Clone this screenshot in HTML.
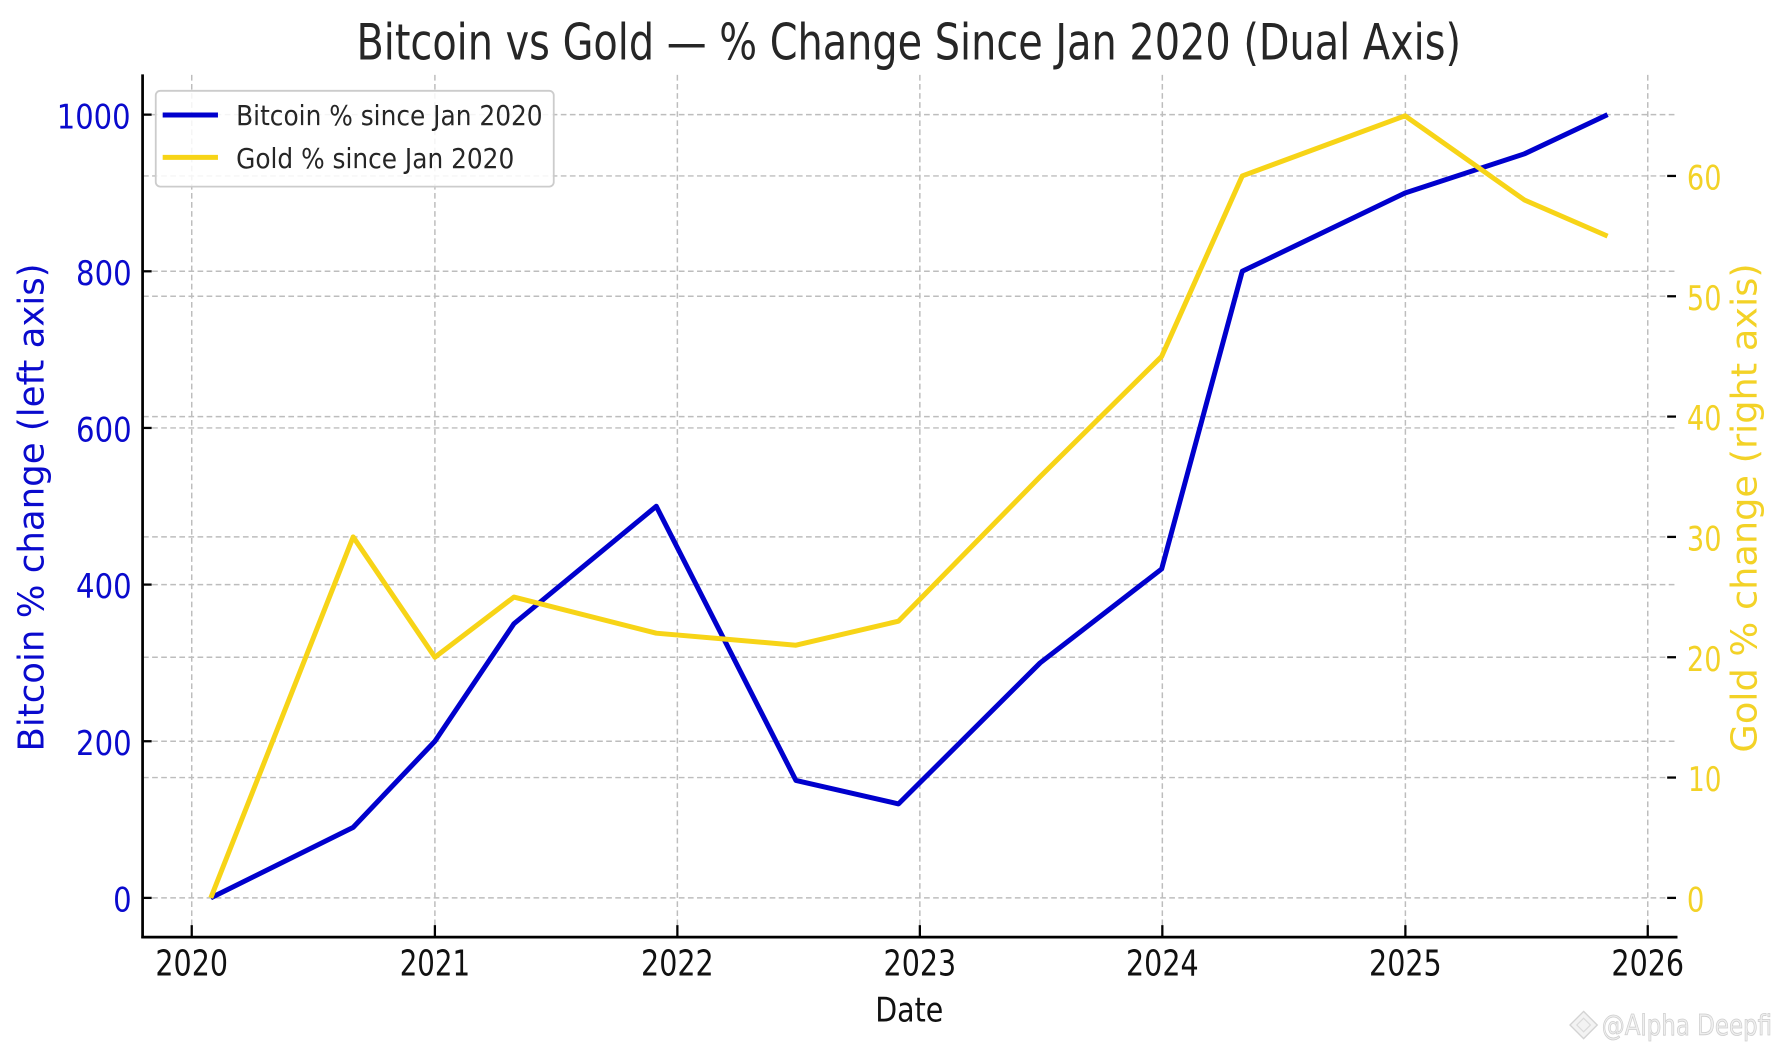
<!DOCTYPE html>
<html>
<head>
<meta charset="utf-8">
<style>
  html,body{margin:0;padding:0;background:#fff;}
  svg{display:block;}
  text{font-family:"DejaVu Sans","Liberation Sans",sans-serif;}
</style>
</head>
<body>
<svg width="1780" height="1050" viewBox="0 0 1568 925" preserveAspectRatio="none" xmlns="http://www.w3.org/2000/svg">
  <rect x="0" y="0" width="1568" height="925" fill="#ffffff"/>

  <!-- Title -->
  <text x="800.5" y="52.3" font-size="44" fill="#262626" text-anchor="middle" textLength="973" lengthAdjust="spacingAndGlyphs">Bitcoin vs Gold — % Change Since Jan 2020 (Dual Axis)</text>

  <!-- Grid -->
  <g stroke="#bdbdbd" stroke-width="1.3" stroke-dasharray="5,3" fill="none">
    <line x1="168.9" y1="66" x2="168.9" y2="825"/>
    <line x1="383.1" y1="66" x2="383.1" y2="825"/>
    <line x1="596.7" y1="66" x2="596.7" y2="825"/>
    <line x1="810.3" y1="66" x2="810.3" y2="825"/>
    <line x1="1023.9" y1="66" x2="1023.9" y2="825"/>
    <line x1="1238.0" y1="66" x2="1238.0" y2="825"/>
    <line x1="1451.5" y1="66" x2="1451.5" y2="825"/>
    <line x1="126" y1="791" x2="1477" y2="791"/>
    <line x1="126" y1="653" x2="1477" y2="653"/>
    <line x1="126" y1="515" x2="1477" y2="515"/>
    <line x1="126" y1="377" x2="1477" y2="377"/>
    <line x1="126" y1="239" x2="1477" y2="239"/>
    <line x1="126" y1="101" x2="1477" y2="101"/>
    <line x1="126" y1="685" x2="1477" y2="685"/>
    <line x1="126" y1="579" x2="1477" y2="579"/>
    <line x1="126" y1="473" x2="1477" y2="473"/>
    <line x1="126" y1="367" x2="1477" y2="367"/>
    <line x1="126" y1="261" x2="1477" y2="261"/>
    <line x1="126" y1="155" x2="1477" y2="155"/>
  </g>

  <!-- Bitcoin series -->
  <polyline fill="none" stroke="#0000cd" stroke-width="4.4" stroke-linejoin="round" stroke-linecap="butt"
    points="185.7,791 311.1,728.9 383.1,653 452.7,549.5 578.1,446 701.1,687.5 791.5,708.2 916.2,584 1023.3,501.2 1094.3,239 1237.7,170 1342.9,135.5 1416.1,101"/>

  <!-- Gold series -->
  <polyline fill="none" stroke="#f7d417" stroke-width="4.4" stroke-linejoin="round" stroke-linecap="butt"
    points="185.7,791 311.1,473 383.1,579 452.7,526 578.1,557.8 701.1,568.4 791.5,547.2 916.2,420 1023.3,314 1094.3,155 1237.7,102 1342.9,176.2 1416.1,208"/>

  <!-- Spines -->
  <line x1="125.6" y1="65.5" x2="125.6" y2="826.5" stroke="#000" stroke-width="2.4"/>
  <line x1="124.5" y1="825.6" x2="1477.7" y2="825.6" stroke="#000" stroke-width="2.4"/>

  <!-- Left ticks -->
  <g stroke="#000" stroke-width="2">
    <line x1="126" y1="791" x2="133.6" y2="791"/>
    <line x1="126" y1="653" x2="133.6" y2="653"/>
    <line x1="126" y1="515" x2="133.6" y2="515"/>
    <line x1="126" y1="377" x2="133.6" y2="377"/>
    <line x1="126" y1="239" x2="133.6" y2="239"/>
    <line x1="126" y1="101" x2="133.6" y2="101"/>
  </g>
  <!-- Right ticks -->
  <g stroke="#000" stroke-width="2">
    <line x1="1468.6" y1="791" x2="1476.4" y2="791"/>
    <line x1="1468.6" y1="685" x2="1476.4" y2="685"/>
    <line x1="1468.6" y1="579" x2="1476.4" y2="579"/>
    <line x1="1468.6" y1="473" x2="1476.4" y2="473"/>
    <line x1="1468.6" y1="367" x2="1476.4" y2="367"/>
    <line x1="1468.6" y1="261" x2="1476.4" y2="261"/>
    <line x1="1468.6" y1="155" x2="1476.4" y2="155"/>
  </g>
  <!-- Bottom ticks -->
  <g stroke="#000" stroke-width="2">
    <line x1="168.9" y1="815" x2="168.9" y2="825"/>
    <line x1="383.1" y1="815" x2="383.1" y2="825"/>
    <line x1="596.7" y1="815" x2="596.7" y2="825"/>
    <line x1="810.3" y1="815" x2="810.3" y2="825"/>
    <line x1="1023.9" y1="815" x2="1023.9" y2="825"/>
    <line x1="1238.0" y1="815" x2="1238.0" y2="825"/>
    <line x1="1451.5" y1="815" x2="1451.5" y2="825"/>
  </g>

  <!-- Left tick labels -->
  <g font-size="30" fill="#0a0acd" text-anchor="end">
    <text x="116" y="803" textLength="16.3" lengthAdjust="spacingAndGlyphs">0</text>
    <text x="116" y="665" textLength="49" lengthAdjust="spacingAndGlyphs">200</text>
    <text x="116" y="527" textLength="49" lengthAdjust="spacingAndGlyphs">400</text>
    <text x="116" y="389" textLength="49" lengthAdjust="spacingAndGlyphs">600</text>
    <text x="116" y="251" textLength="49" lengthAdjust="spacingAndGlyphs">800</text>
    <text x="115" y="113" textLength="65" lengthAdjust="spacingAndGlyphs">1000</text>
  </g>

  <!-- Right tick labels -->
  <g font-size="30" fill="#f3d227">
    <text x="1486" y="803" textLength="15.5" lengthAdjust="spacingAndGlyphs">0</text>
    <text x="1487" y="697" textLength="29.5" lengthAdjust="spacingAndGlyphs">10</text>
    <text x="1486" y="591" textLength="30.5" lengthAdjust="spacingAndGlyphs">20</text>
    <text x="1486" y="485" textLength="30.5" lengthAdjust="spacingAndGlyphs">30</text>
    <text x="1486" y="379" textLength="30.5" lengthAdjust="spacingAndGlyphs">40</text>
    <text x="1486" y="273" textLength="30.5" lengthAdjust="spacingAndGlyphs">50</text>
    <text x="1486" y="167" textLength="30.5" lengthAdjust="spacingAndGlyphs">60</text>
  </g>

  <!-- X tick labels -->
  <g font-size="31" fill="#111" text-anchor="middle">
    <text x="168.9" y="859.5" textLength="64" lengthAdjust="spacingAndGlyphs">2020</text>
    <text x="383.1" y="859.5" textLength="62" lengthAdjust="spacingAndGlyphs">2021</text>
    <text x="596.7" y="859.5" textLength="64" lengthAdjust="spacingAndGlyphs">2022</text>
    <text x="810.3" y="859.5" textLength="64" lengthAdjust="spacingAndGlyphs">2023</text>
    <text x="1023.9" y="859.5" textLength="64" lengthAdjust="spacingAndGlyphs">2024</text>
    <text x="1238.0" y="859.5" textLength="64" lengthAdjust="spacingAndGlyphs">2025</text>
    <text x="1451.5" y="859.5" textLength="64" lengthAdjust="spacingAndGlyphs">2026</text>
  </g>

  <!-- X axis label -->
  <text x="801" y="900" font-size="30" fill="#111" text-anchor="middle" textLength="60" lengthAdjust="spacingAndGlyphs">Date</text>

  <!-- Y axis labels -->
  <text transform="translate(38.2,447) rotate(-90)" x="0" y="0" font-size="31.3" fill="#0a0acd" text-anchor="middle" textLength="430" lengthAdjust="spacingAndGlyphs">Bitcoin % change (left axis)</text>
  <text transform="translate(1547.4,447.5) rotate(-90)" x="0" y="0" font-size="31.3" fill="#f3d227" text-anchor="middle" textLength="431" lengthAdjust="spacingAndGlyphs">Gold % change (right axis)</text>

  <!-- Legend -->
  <rect x="137.2" y="80" width="350.6" height="84.4" rx="4" ry="4" fill="#ffffff" fill-opacity="0.85" stroke="#cccccc" stroke-width="1.6"/>
  <line x1="143.3" y1="101.3" x2="192" y2="101.3" stroke="#0000cd" stroke-width="4.4"/>
  <line x1="143.3" y1="138.6" x2="192" y2="138.6" stroke="#f7d417" stroke-width="4.4"/>
  <text x="208" y="110.3" font-size="24.2" fill="#262626" textLength="270" lengthAdjust="spacingAndGlyphs">Bitcoin % since Jan 2020</text>
  <text x="208" y="147.8" font-size="24.2" fill="#262626" textLength="245" lengthAdjust="spacingAndGlyphs">Gold % since Jan 2020</text>

  <!-- Watermark -->
  <g opacity="0.9">
    <path d="M1395,891 L1407,903 L1395,915 L1383,903 Z" fill="#f2f2f2" stroke="#cfcfcf" stroke-width="1.2"/>
    <path d="M1395,897 L1401,903 L1395,909 L1389,903 Z" fill="none" stroke="#d6d6d6" stroke-width="1"/>
    <text x="1411" y="912" font-size="25" fill="#eeeeee" stroke="#c8c8c8" stroke-width="0.7" textLength="150" lengthAdjust="spacingAndGlyphs">@Alpha Deepfi</text>
  </g>
</svg>
</body>
</html>
